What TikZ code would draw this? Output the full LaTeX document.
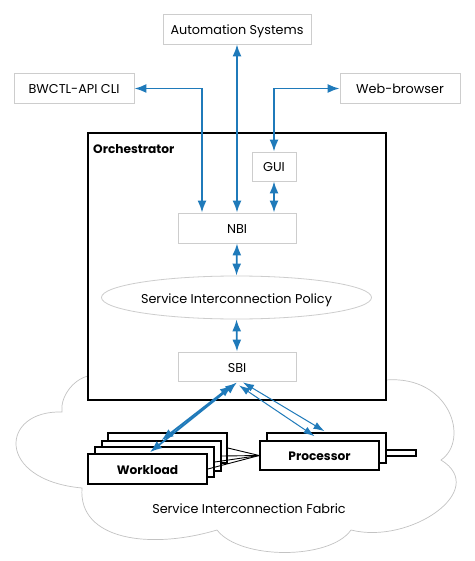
\documentclass[tikz,border=0pt]{standalone}
\usepackage{fontspec}
\setmainfont{Poppins}
\usetikzlibrary{arrows.meta,shapes.geometric,calc}
\definecolor{ablue}{RGB}{31,122,186}
\definecolor{lgray}{RGB}{205,205,205}
\definecolor{cgray}{RGB}{195,195,195}
\begin{document}
\begin{tikzpicture}[x=1pt,y=-1pt,
  txt/.style={font=\fontsize{12.8}{14}\selectfont, text height=11pt, text depth=0pt},
  btxt/.style={font=\fontsize{12.2}{14}\selectfont\bfseries, text height=10.5pt, text depth=0pt},
  gbox/.style={draw=lgray, line width=0.8pt, fill=white, minimum height=30pt, inner sep=0pt, txt},
  kbox/.style={draw=black, line width=1.6pt, fill=white, minimum width=119pt, minimum height=30pt, inner sep=0pt},
  bdarrow/.style={draw=ablue, line width=1.8pt, {Latex[length=12pt,width=9pt]}-{Latex[length=12pt,width=9pt]}},
  thinarrow/.style={draw=ablue, line width=1pt, {Latex[length=11pt,width=7.5pt]}-{Latex[length=11pt,width=7.5pt]}}
]
\useasboundingbox (0,0) rectangle (474,561);
% cloud
\draw[cgray, line width=0.7pt, fill=white]
  (88,376) .. controls (72,380) and (60,398) .. (62,412)
  .. controls (0,410) and (-5,480) .. (82,488)
  .. controls (78,540) and (150,550) .. (217,530)
  .. controls (240,560) and (330,560) .. (351,530)
  .. controls (410,545) and (490,490) .. (441,460)
  .. controls (470,440) and (450,375) .. (386,380) -- cycle;
% top boxes
\node[gbox, minimum width=148pt] (auto) at (237,29) {Automation Systems};
\node[gbox, minimum width=120pt] (bw) at (74,88.5) {BWCTL-API CLI};
\node[gbox, minimum width=120pt] (web) at (400,88.5) {Web-browser};
% orchestrator
\node[draw, line width=1.8pt, fill=white, minimum width=298pt, minimum height=267pt, inner sep=0pt] (orch) at (237,266.5) {};
\node[anchor=west, inner sep=0pt, btxt] (orchlabel) at (93,148) {Orchestrator};
\node[gbox, minimum width=44pt, minimum height=29pt] (gui) at (274,166.5) {GUI};
\node[gbox, minimum width=118pt] (nbi) at (237,228) {NBI};
\node[ellipse, draw=lgray, line width=0.8pt, minimum width=267pt, minimum height=43pt, inner sep=0pt, txt] (pol) at (236.5,297.5) {Service Interconnection Policy};
\node[gbox, minimum width=118pt, minimum height=29pt] (sbi) at (237,366.5) {SBI};
% arrows top
\coordinate (nbiA) at ($(nbi.north)+(-35,0)$);
\draw[bdarrow] (bw.east) -| (nbiA);
\draw[bdarrow] (auto.south) -- (nbi.north);
\draw[bdarrow] (web.west) -| (gui.north);
\draw[bdarrow] (gui.south) -- (gui.south |- nbi.north);
\draw[bdarrow] (nbi.south) -- (pol.north);
\draw[bdarrow] (pol.south) -- (sbi.north);
% workload stack
\node[kbox] (w4) at (167.5,448) {};
\node[kbox] (w3) at (161.5,456) {};
\node[kbox] (w2) at (154.5,462) {};
\node[kbox, btxt] (w1) at (147.5,469) {Workload};
% processor
\node[draw, line width=1.4pt, fill=white, minimum width=36pt, minimum height=6pt, inner sep=0pt] (pbar) at (398,453) {};
\node[kbox] (p2) at (326.5,448) {};
\node[kbox, minimum height=29pt, btxt] (p1) at (319.5,455.5) {Processor};
\foreach \w in {w1,w2,w3,w4}{\draw[line width=0.9pt] (\w.east) -- (p1.west);}
% blue arrows to fabric
\coordinate (sA) at ($(sbi.south)+(0,1)$);
\coordinate (sB) at ($(sbi.south)+(-5,4)$);
\coordinate (sC) at ($(sbi.south)+(6,1)$);
\coordinate (sD) at ($(sbi.south)+(2,4)$);
\coordinate (wA) at ($(w1.north)+(2.5,-1)$);
\coordinate (wB) at ($(w1.north)+(14,-13)$);
\coordinate (pC) at ($(p2.north)+(-2,-1)$);
\coordinate (pD) at ($(p1.north)+(-5,-4)$);
\draw[bdarrow] (sA) -- (wA);
\draw[bdarrow] (sB) -- (wB);
\draw[thinarrow] (sC) -- (pC);
\draw[thinarrow] (sD) -- (pD);
\node[txt] (fabric) at (249,508) {Service Interconnection Fabric};
\end{tikzpicture}
\end{document}
